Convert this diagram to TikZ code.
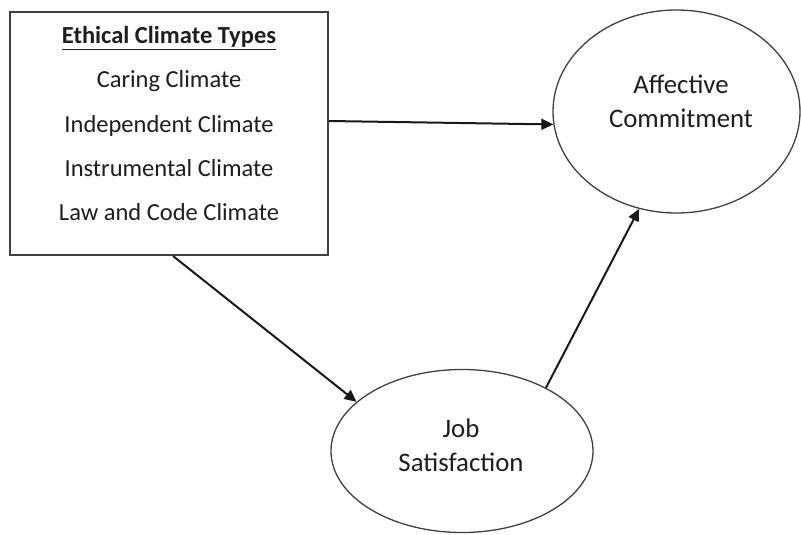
\documentclass[tikz,border=0pt]{standalone}
\usepackage{fontspec}
\setmainfont{Carlito}
\usetikzlibrary{shapes.geometric,arrows.meta}
\definecolor{txt}{HTML}{1E1E1E}
\definecolor{edge}{HTML}{404040}
\tikzset{
  boxtext/.style={anchor=base,inner sep=0pt,text=txt,font=\fontsize{24.5}{28}\selectfont},
  elltext/.style={anchor=base,inner sep=0pt,text=txt,font=\fontsize{26.8}{31}\selectfont},
  ellnode/.style={draw=edge,line width=1.3pt,ellipse,inner sep=0pt},
  arr/.style={draw=black!90,line width=2pt,-{Triangle[length=12pt,width=11pt]}}
}
\begin{document}
\begin{tikzpicture}[x=1pt,y=-1pt]
\useasboundingbox[fill=white] (0,0) rectangle (801,535);
% box
\node[draw=edge,line width=2pt,minimum width=318pt,minimum height=243pt,inner sep=0pt] (box) at (169,133.5) {};
\node[boxtext,font=\fontsize{24.5}{28}\selectfont\bfseries] (t0) at (169,43.5) {\underline{Ethical Climate Types}};
\node[boxtext] (t1) at (169,88) {Caring Climate};
\node[boxtext] (t2) at (169,132) {Independent Climate};
\node[boxtext] (t3) at (169,176) {Instrumental Climate};
\node[boxtext] (t4) at (169,220) {Law and Code Climate};
% ellipses
\node[ellnode,minimum width=247pt,minimum height=203pt] (ac) at (676.5,111.5) {};
\node[elltext] (ac1) at (681,93) {Affective};
\node[elltext] (ac2) at (681,128) {Commitment};
\node[ellnode,minimum width=262pt,minimum height=163pt] (js) at (462,451) {};
\node[elltext] (js1) at (461,437) {Job};
\node[elltext] (js2) at (461,471) {Satisfaction};
% arrows
\draw[arr] ([yshift=12.5pt]box.east) -- (ac.186);
\draw[arr] ([xshift=4pt]box.south) -- (js.155);
\draw[arr] (js.37) -- (ac.249);
\end{tikzpicture}
\end{document}
